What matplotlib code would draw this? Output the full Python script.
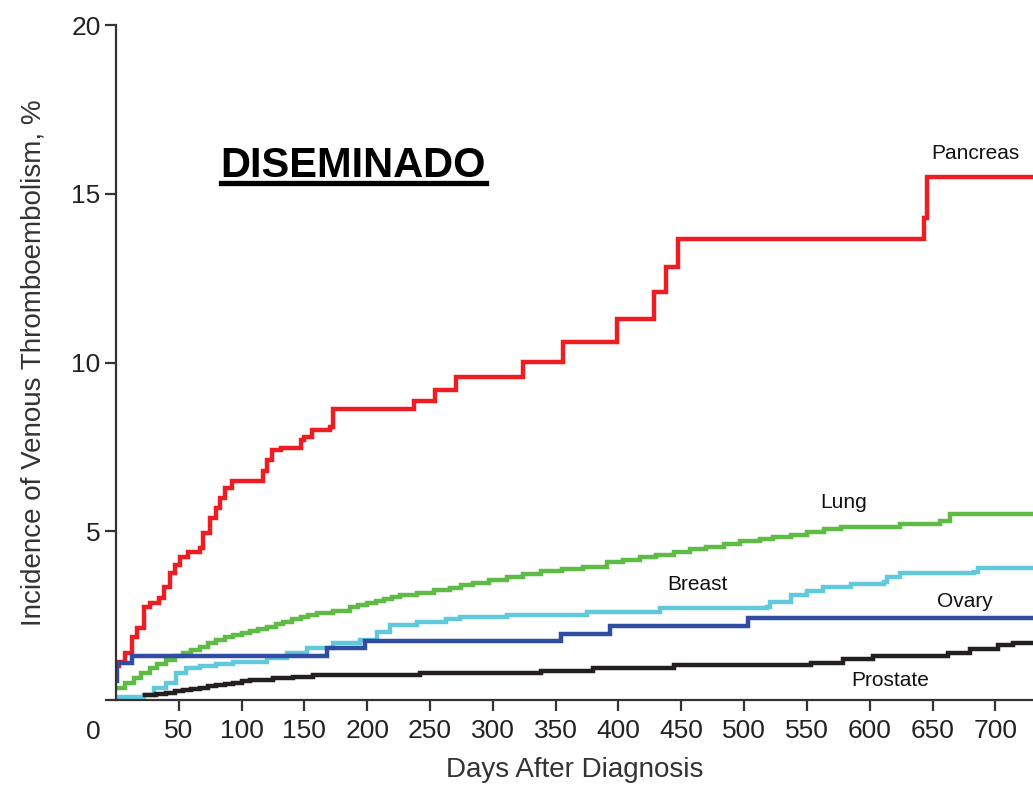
import matplotlib.pyplot as plt
from matplotlib.lines import Line2D

# cumulative incidence (%), step curves (day, value)
pancreas_days = [0, 2, 7, 13, 17, 22, 27, 34, 38, 43, 47, 51, 57, 67, 69, 75, 80, 83, 87, 92,
                 117, 120, 124, 131, 147, 150, 156, 170, 173, 237, 254, 271, 324, 356, 399,
                 428, 438, 447, 643, 646, 735]
pancreas_vals = [1.0, 1.13, 1.39, 1.87, 2.13, 2.76, 2.87, 3.02, 3.35, 3.76, 4.0, 4.24, 4.38, 4.5,
                 4.95, 5.39, 5.69, 6.0, 6.28, 6.5, 6.8, 7.1, 7.4, 7.47, 7.7, 7.8, 8.0, 8.1, 8.62,
                 8.87, 9.2, 9.58, 10.02, 10.6, 11.28, 12.09, 12.84, 13.65, 14.28, 15.5, 15.5]

lung_days = [0, 7, 14, 20, 27, 33, 40, 47, 53, 60, 67, 73, 80, 87, 93, 100, 107, 113, 120, 127,
             133, 140, 147, 153, 160, 173, 186, 193, 200, 207, 213, 220, 226, 240, 253, 266,
             275, 284, 297, 311, 324, 338, 355, 372, 391, 404, 417, 430, 444, 457, 470, 484,
             497, 513, 523, 537, 550, 564, 577, 624, 656, 664, 735]
lung_vals = [0.36, 0.5, 0.65, 0.8, 0.95, 1.07, 1.18, 1.29, 1.39, 1.48, 1.57, 1.68, 1.78, 1.86,
             1.93, 1.99, 2.04, 2.1, 2.16, 2.24, 2.31, 2.39, 2.46, 2.52, 2.58, 2.64, 2.76, 2.82,
             2.87, 2.93, 2.99, 3.05, 3.11, 3.17, 3.26, 3.32, 3.4, 3.47, 3.56, 3.64, 3.73, 3.82,
             3.88, 3.94, 4.09, 4.16, 4.24, 4.31, 4.38, 4.46, 4.53, 4.62, 4.71, 4.78, 4.83, 4.9,
             4.98, 5.06, 5.13, 5.21, 5.3, 5.51, 5.51]

breast_days = [0, 22, 30, 40, 48, 56, 67, 80, 93, 120, 136, 152, 173, 194, 208, 218, 240, 263,
               274, 311, 375, 433, 518, 521, 537, 550, 563, 585, 611, 614, 624, 683, 686, 735]
breast_vals = [0.1, 0.15, 0.36, 0.5, 0.8, 0.95, 1.01, 1.07, 1.13, 1.24, 1.39, 1.54, 1.69, 1.78,
               2.01, 2.22, 2.31, 2.4, 2.46, 2.52, 2.61, 2.73, 2.76, 2.9, 3.11, 3.23, 3.35, 3.44,
               3.5, 3.64, 3.76, 3.8, 3.91, 3.91]

ovary_days = [0, 1, 13, 168, 198, 354, 393, 503, 735]
ovary_vals = [0.55, 1.1, 1.3, 1.54, 1.75, 1.96, 2.19, 2.42, 2.42]

prostate_days = [23, 32, 40, 47, 53, 60, 67, 73, 80, 87, 93, 100, 107, 125, 141, 157, 242, 338,
                 380, 444, 553, 579, 603, 662, 680, 702, 714, 735]
prostate_vals = [0.15, 0.18, 0.21, 0.26, 0.3, 0.33, 0.36, 0.4, 0.44, 0.47, 0.5, 0.55, 0.59, 0.65,
                 0.68, 0.74, 0.8, 0.87, 0.94, 1.03, 1.1, 1.21, 1.31, 1.4, 1.51, 1.63, 1.7, 1.7]

labels = ["Pancreas", "Lung", "Breast", "Ovary", "Prostate"]
label_pos = [(684, 16.2), (579, 5.84), (463, 3.41), (676, 2.93), (616, 0.59)]

narrow = ["Liberation Sans Narrow", "Liberation Sans", "DejaVu Sans"]
plt.rcParams['font.family'] = narrow

fig = plt.figure(figsize=(10.33, 7.95), dpi=100)
ax = fig.add_axes([0.1123, 0.1195, 0.8877, 0.849])

series = [
    (pancreas_days, pancreas_vals, "#ee1d24"),
    (lung_days, lung_vals, "#5dbb46"),
    (breast_days, breast_vals, "#62c9dd"),
    (ovary_days, ovary_vals, "#2f4ea2"),
    (prostate_days, prostate_vals, "#231f20"),
]
for d, v, c in series:
    ax.step(d, v, where="post", color=c, lw=3.2, solid_joinstyle="miter")

ax.set_xlim(0, 730)
ax.set_ylim(0, 20)
ax.set_xticks(range(50, 701, 50))
ax.set_yticks([0, 5, 10, 15, 20])
ax.set_yticklabels(["", "5", "10", "15", "20"])

for s in ["top", "right"]:
    ax.spines[s].set_visible(False)
for s in ["left", "bottom"]:
    ax.spines[s].set_linewidth(1.6)
    ax.spines[s].set_color("#333333")
ax.tick_params(axis="both", length=8, width=1.6, color="#333333", labelsize=19,
               labelcolor="#222222")
ax.tick_params(axis="x", pad=6)
ax.tick_params(axis="y", pad=3)

ax.text(-18, -0.6, "0", ha="center", va="top", fontsize=19, color="#222222", clip_on=False)

ax.set_xlabel("Days After Diagnosis", fontsize=20, color="#333333", labelpad=10)
ax.set_ylabel("Incidence of Venous Thromboembolism, %", fontsize=20, color="#333333",
              labelpad=18)

for lab, (x, y) in zip(labels, label_pos):
    ax.text(x, y, lab, ha="center", va="center", fontsize=15, color="#111111")

title = ax.text(189, 15.5, "DISEMINADO", ha="center", va="baseline", fontsize=30,
                fontweight="bold", family=["Liberation Sans", "DejaVu Sans"], color="black")

fig.canvas.draw()
bb = title.get_window_extent()
inv = fig.transFigure.inverted()
(x0, y0), (x1, _) = inv.transform([(bb.x0, bb.y0 + 3), (bb.x1, bb.y0)])
fig.add_artist(Line2D([x0, x1], [y0, y0], color="black", lw=3.8, transform=fig.transFigure))

fig.savefig("out.png", dpi=100)
